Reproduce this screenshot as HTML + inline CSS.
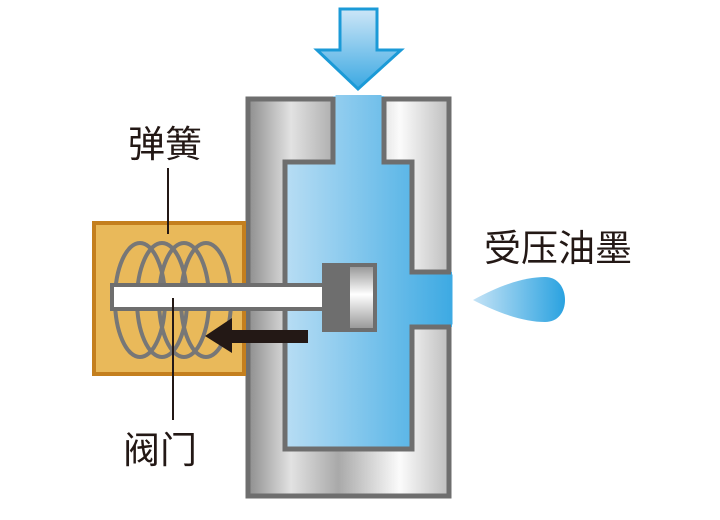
<!DOCTYPE html>
<html><head><meta charset="utf-8"><style>
html,body{margin:0;padding:0;background:#fff;}
svg{display:block;}
text{font-family:"Liberation Sans","Noto Sans CJK SC",sans-serif;fill:#231815;}
</style></head><body>
<svg width="720" height="520" viewBox="0 0 720 520" xmlns="http://www.w3.org/2000/svg">
<defs>
<linearGradient id="gb" gradientUnits="userSpaceOnUse" x1="246" x2="451" y1="0" y2="0">
<stop offset="0" stop-color="#8a8a8a"/><stop offset="0.22" stop-color="#e2e2e2"/><stop offset="0.45" stop-color="#a9a9a9"/><stop offset="0.75" stop-color="#fbfbfb"/><stop offset="1" stop-color="#bcbcbc"/>
</linearGradient>
<linearGradient id="gw" gradientUnits="userSpaceOnUse" x1="285" x2="451" y1="0" y2="0">
<stop offset="0" stop-color="#b8ddf4"/><stop offset="1" stop-color="#3eaae3"/>
</linearGradient>
<linearGradient id="ga" x1="0" x2="0" y1="0" y2="1">
<stop offset="0" stop-color="#cde6f7"/><stop offset="1" stop-color="#3aa8e2"/>
</linearGradient>
<linearGradient id="gd" x1="0" x2="1" y1="0" y2="0">
<stop offset="0" stop-color="#c5e3f6"/><stop offset="1" stop-color="#2aa2e0"/>
</linearGradient>
<linearGradient id="gp" x1="0" x2="0" y1="0" y2="1">
<stop offset="0" stop-color="#9a9a9a"/><stop offset="0.45" stop-color="#ffffff"/><stop offset="1" stop-color="#9a9a9a"/>
</linearGradient>
</defs>

<!-- top arrow -->
<path d="M340,9 H377 V50 H401 L358,89 L317,50 H340 Z" fill="url(#ga)" stroke="#1b9ad7" stroke-width="3"/>

<!-- body -->
<rect x="248" y="99" width="201" height="397" fill="url(#gb)" stroke="#6e6e6e" stroke-width="5"/>
<!-- cavity -->
<path d="M333,96 H384 V162 H412 V272 H452 V327 H412 V449 H285 V162 H333 Z" fill="url(#gw)"/>
<path d="M333,97 V162 H285 V449 H412 V327 H451" fill="none" stroke="#6e6e6e" stroke-width="5"/>
<path d="M384,97 V162 H412 V272 H451" fill="none" stroke="#6e6e6e" stroke-width="5"/>
<rect x="335.5" y="95" width="46" height="8" fill="url(#gw)"/>
<rect x="414.5" y="274.5" width="38" height="50" fill="url(#gw)"/>

<!-- orange box -->
<rect x="94" y="223" width="150" height="151" fill="#e9b95a" stroke="#c47f1e" stroke-width="4"/>
<!-- coils -->
<g fill="none" stroke="#777" stroke-width="4">
<ellipse cx="140" cy="300" rx="25" ry="57"/>
<ellipse cx="162" cy="300" rx="25" ry="57"/>
<ellipse cx="184" cy="300" rx="25" ry="57"/>
<ellipse cx="206" cy="300" rx="25" ry="57"/>
</g>
<!-- rod -->
<rect x="112" y="285" width="212" height="24" fill="#fff" stroke="#6e6e6e" stroke-width="4"/>
<!-- piston -->
<rect x="322" y="263" width="55" height="69" fill="#6e6e6e"/>
<rect x="350" y="267" width="23" height="61" fill="url(#gp)"/>

<!-- black arrow -->
<path d="M308,330 H232 V318 L205,336 L232,353 V343 H308 Z" fill="#231815"/>

<!-- drop -->
<path d="M473,300 C500,285 525,277 545,277 C558,277 565,288 565,300 C565,312 558,322 545,322 C525,322 500,314 473,300 Z" fill="url(#gd)"/>

<!-- leaders -->
<line x1="168" y1="168" x2="168" y2="234" stroke="#231815" stroke-width="2"/>
<line x1="173" y1="298" x2="173" y2="420" stroke="#231815" stroke-width="2"/>

<text x="128" y="157" font-size="37">弹簧</text>
<text x="123" y="463" font-size="37">阀门</text>
<text x="484" y="261" font-size="37">受压油墨</text>
</svg>
</body></html>
